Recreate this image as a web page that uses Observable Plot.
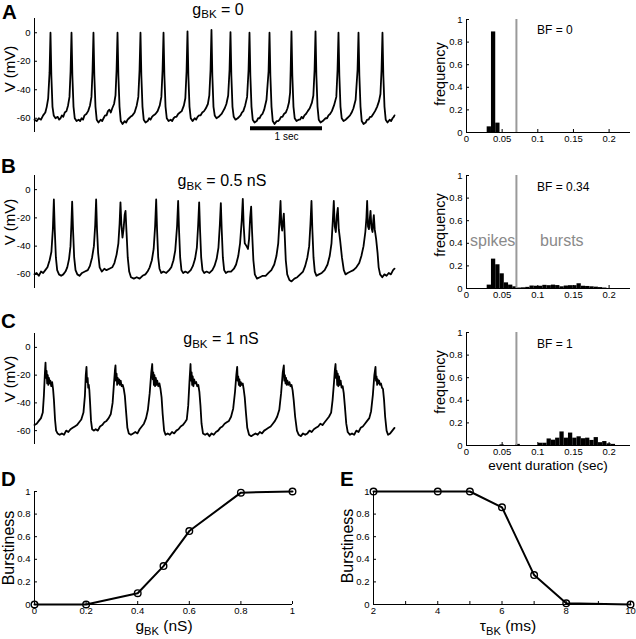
<!DOCTYPE html>
<html><head><meta charset="utf-8">
<script src="https://cdn.jsdelivr.net/npm/d3@7"></script>
<script src="https://cdn.jsdelivr.net/npm/@observablehq/plot@0.6"></script>
<style>
html,body{margin:0;padding:0;background:#fff;}
#fig{position:relative;width:636px;height:639px;overflow:hidden;font-family:'Liberation Sans',Arial,Helvetica,sans-serif;color:#000;background:#fff;}
#fig svg{position:absolute;}
.lbl{position:absolute;white-space:nowrap;line-height:1;}
.sub{font-size:0.72em;position:relative;top:0.3em;}
</style></head><body><div id="fig"></div><script>
// ---------- data ----------
const vTicks = [-60, -40, -20, 0];
const fTicks = [0, 0.2, 0.4, 0.6, 0.8, 1];
const durTicks = [0, 0.05, 0.1, 0.15, 0.2];
const bfThreshold = 0.07;
const binWidth = 0.006;
const scaleBar = {t0: 3, t1: 4, v: -67, label: "1 sec"};

const traceA = [
[0,-61],[0.03,-62],[0.06,-60],[0.09,-61],[0.12,-58],[0.15,-56],[0.17,-52],[0.19,-46],[0.209,-28],[0.222,0],
[0.234,-30],[0.25,-52],[0.267,-58],[0.292,-60],[0.322,-59],[0.342,-61],[0.362,-60],[0.38,-58],[0.40,-59],[0.42,-56],[0.444,-55],[0.466,-51],[0.486,-45],[0.501,-27],[0.514,0],
[0.526,-30],[0.542,-52],[0.559,-60],[0.584,-62],[0.614,-61],[0.634,-62],[0.654,-60],[0.674,-61],[0.694,-58],[0.72,-57],[0.745,-55],[0.771,-51],[0.791,-45],[0.806,-27],[0.819,0],
[0.831,-30],[0.847,-52],[0.864,-61],[0.889,-63],[0.919,-61],[0.94,-62],[0.959,-60],[0.98,-58],[1.00,-58],[1.02,-55],[1.04,-54],[1.06,-56],[1.08,-53],[1.105,-50],[1.125,-44],[1.14,-26],[1.153,0],
[1.165,-30],[1.181,-52],[1.198,-62],[1.223,-64],[1.253,-62],[1.273,-63],[1.293,-61],[1.313,-60],[1.333,-59],[1.36,-58],[1.39,-56],[1.42,-51],[1.442,-45],[1.459,-26],[1.472,0],
[1.484,-30],[1.50,-52],[1.517,-61],[1.542,-63],[1.572,-62],[1.592,-60],[1.612,-61],[1.632,-59],[1.652,-58],[1.68,-57],[1.71,-55],[1.74,-51],[1.762,-45],[1.779,-26],[1.792,0],
[1.804,-30],[1.82,-52],[1.837,-60],[1.862,-62],[1.892,-61],[1.912,-62],[1.932,-60],[1.952,-59],[1.972,-59],[1.995,-57],[2.02,-56],[2.045,-55],[2.075,-51],[2.095,-46],[2.112,-27],[2.125,1],
[2.137,-30],[2.153,-52],[2.17,-60],[2.195,-62],[2.225,-60],[2.245,-61],[2.265,-59],[2.285,-58],[2.305,-58],[2.33,-56],[2.355,-55],[2.38,-53],[2.408,-50],[2.428,-44],[2.445,-26],[2.458,2],
[2.47,-30],[2.486,-52],[2.503,-58],[2.528,-60],[2.558,-59],[2.578,-58],[2.598,-57],[2.62,-55],[2.642,-53],[2.665,-50],[2.69,-44],[2.709,-26],[2.722,0.5],
[2.734,-30],[2.75,-52],[2.767,-59],[2.792,-61],[2.822,-60],[2.842,-59],[2.862,-58],[2.88,-56],[2.9,-55],[2.926,-51],[2.953,-45],[2.973,-26],[2.986,0],
[2.998,-30],[3.014,-52],[3.031,-61],[3.056,-63],[3.086,-62],[3.106,-60],[3.126,-60],[3.146,-58],[3.166,-57],[3.19,-54],[3.222,-47],[3.251,-27],[3.264,0],
[3.276,-30],[3.292,-52],[3.309,-62],[3.334,-64],[3.364,-62],[3.384,-62],[3.404,-61],[3.424,-59],[3.444,-59],[3.465,-57],[3.49,-56],[3.514,-53],[3.534,-49],[3.55,-42],[3.558,-26],[3.569,1],
[3.581,-30],[3.597,-52],[3.614,-60],[3.639,-62],[3.669,-61],[3.689,-61],[3.709,-59],[3.729,-60],[3.749,-58],[3.77,-57],[3.795,-55],[3.823,-53],[3.853,-49],[3.873,-44],[3.89,-26],[3.903,1],
[3.915,-30],[3.931,-52],[3.948,-61],[3.973,-63],[4.003,-62],[4.023,-61],[4.043,-60],[4.063,-60],[4.083,-58],[4.105,-57],[4.13,-55],[4.16,-51],[4.192,-45],[4.209,-26],[4.222,0],
[4.234,-30],[4.25,-52],[4.267,-60],[4.292,-62],[4.322,-61],[4.342,-60],[4.362,-59],[4.382,-58],[4.405,-56],[4.43,-53],[4.46,-47],[4.487,-26],[4.5,0],
[4.512,-30],[4.528,-52],[4.545,-62],[4.57,-64],[4.60,-63],[4.62,-61],[4.64,-61],[4.66,-59],[4.68,-59],[4.705,-57],[4.73,-55],[4.758,-52],[4.785,-48],[4.805,-43],[4.82,-26],[4.833,0],
[4.845,-30],[4.861,-52],[4.878,-61],[4.903,-63],[4.933,-61],[4.953,-62],[4.973,-60],[4.99,-59],[5.0,-58]
];

const traceB = [
[0,-60],[0.03,-59],[0.06,-61],[0.09,-58],[0.12,-59],[0.15,-57],[0.18,-55],[0.21,-50],[0.235,-44],[0.255,-28],[0.269,-7],
[0.281,-28],[0.297,-48],[0.315,-57],[0.34,-60],[0.37,-61],[0.40,-60],[0.43,-58],[0.455,-55],[0.48,-49],[0.50,-40],[0.512,-25],[0.523,-8.5],
[0.535,-28],[0.551,-48],[0.57,-57],[0.595,-60],[0.625,-61],[0.66,-59],[0.70,-58],[0.74,-57],[0.77,-54],[0.80,-48],[0.825,-40],[0.843,-25],[0.856,-7],
[0.868,-28],[0.884,-45],[0.905,-55],[0.935,-58],[0.97,-56],[1.00,-57],[1.04,-56],[1.08,-55],[1.11,-52],[1.14,-46],[1.165,-38],[1.182,-24],[1.194,-9],
[1.207,-25],[1.222,-34],[1.237,-28],[1.252,-18],[1.264,-15],[1.278,-30],[1.295,-48],[1.315,-58],[1.34,-62],[1.38,-63],[1.42,-62],[1.46,-63],[1.50,-61],[1.54,-60],[1.57,-58],[1.60,-55],[1.63,-50],[1.655,-42],[1.675,-26],[1.69,-7],
[1.702,-28],[1.718,-48],[1.736,-56],[1.76,-59],[1.79,-58],[1.83,-59],[1.87,-57],[1.90,-55],[1.93,-50],[1.955,-43],[1.98,-26],[1.995,-8],
[2.007,-28],[2.023,-48],[2.041,-57],[2.065,-59],[2.095,-58],[2.13,-59],[2.17,-57],[2.20,-54],[2.23,-49],[2.255,-41],[2.273,-25],[2.287,-9],
[2.299,-28],[2.315,-48],[2.333,-57],[2.357,-59],[2.39,-58],[2.43,-59],[2.47,-57],[2.50,-54],[2.53,-49],[2.555,-41],[2.574,-25],[2.588,-9.5],
[2.60,-28],[2.616,-48],[2.634,-57],[2.658,-59],[2.69,-58],[2.73,-58],[2.77,-56],[2.80,-53],[2.83,-47],[2.855,-38],[2.878,-22],[2.893,-6.5],
[2.905,-25],[2.92,-38],[2.945,-40],[2.965,-42],[2.98,-35],[2.995,-20],[3.009,-12],[3.022,-30],[3.04,-50],[3.06,-60],[3.09,-63],[3.13,-62],[3.17,-61],[3.21,-61],[3.25,-59],[3.29,-57],[3.33,-53],[3.36,-47],[3.385,-38],[3.403,-22],[3.417,-8],
[3.428,-25],[3.44,-29],[3.452,-22],[3.463,-17],[3.475,-32],[3.49,-50],[3.51,-60],[3.54,-64],[3.57,-65],[3.61,-63],[3.65,-62],[3.69,-60],[3.73,-58],[3.76,-54],[3.79,-48],[3.815,-40],[3.833,-24],[3.847,-8],
[3.859,-28],[3.875,-48],[3.893,-58],[3.917,-61],[3.95,-60],[3.99,-59],[4.03,-57],[4.07,-53],[4.10,-47],[4.125,-38],[4.143,-22],[4.157,-8],
[4.17,-26],[4.185,-30],[4.2,-18],[4.213,-13],[4.226,-28],[4.245,-36],[4.27,-48],[4.296,-57],[4.32,-60],[4.35,-59],[4.39,-58],[4.43,-57],[4.47,-55],[4.51,-52],[4.54,-47],[4.57,-40],[4.595,-30],[4.61,-20],[4.62,-8],
[4.632,-26],[4.645,-28],[4.658,-20],[4.667,-15],[4.68,-27],[4.695,-30],[4.705,-22],[4.713,-18],[4.725,-28],[4.745,-35],[4.765,-45],[4.78,-55],[4.80,-60],[4.83,-62],[4.86,-60],[4.89,-61],[4.92,-59],[4.95,-60],[4.98,-57],[5.0,-56]
];

const traceC = [
[0,-56],[0.03,-55],[0.06,-53],[0.09,-51],[0.115,-47],[0.13,-35],[0.145,-18],[0.153,-11],[0.16,-22],[0.168,-17],[0.176,-26],[0.184,-20],[0.192,-27],[0.2,-22],[0.21,-26],[0.22,-24],[0.232,-28],[0.245,-25],[0.258,-30],[0.27,-38],[0.285,-52],[0.30,-60],[0.32,-62],[0.35,-63],[0.38,-62],[0.41,-63],[0.44,-60],[0.47,-61],[0.50,-59],[0.53,-58],[0.56,-57],[0.59,-56],[0.62,-54],[0.65,-52],[0.68,-47],[0.70,-35],[0.712,-20],[0.722,-14],[0.73,-25],[0.738,-22],[0.746,-29],[0.754,-27],[0.762,-31],[0.772,-40],[0.785,-53],[0.80,-59],[0.825,-60],[0.85,-59],[0.88,-60],[0.91,-57],[0.94,-56],[0.97,-54],[1.00,-53],[1.03,-51],[1.06,-48],[1.085,-40],[1.105,-25],[1.118,-16],[1.125,-13],[1.132,-24],[1.14,-19],[1.148,-27],[1.156,-22],[1.165,-26],[1.175,-23],[1.185,-27],[1.197,-24],[1.21,-28],[1.225,-27],[1.24,-30],[1.255,-35],[1.27,-45],[1.29,-58],[1.31,-62],[1.34,-63],[1.37,-62],[1.40,-61],[1.43,-62],[1.46,-59],[1.49,-57],[1.52,-55],[1.55,-51],[1.575,-45],[1.60,-33],[1.622,-18],[1.635,-12],[1.642,-23],[1.65,-18],[1.658,-27],[1.666,-20],[1.675,-28],[1.685,-22],[1.695,-27],[1.705,-24],[1.72,-28],[1.735,-26],[1.75,-30],[1.765,-36],[1.78,-48],[1.80,-60],[1.82,-63],[1.85,-62],[1.88,-63],[1.91,-61],[1.94,-62],[1.97,-60],[2.00,-59],[2.03,-57],[2.06,-56],[2.09,-54],[2.115,-52],[2.135,-42],[2.152,-25],[2.167,-12],[2.174,-24],[2.182,-18],[2.19,-27],[2.198,-21],[2.207,-28],[2.217,-23],[2.23,-26],[2.245,-25],[2.26,-28],[2.275,-27],[2.29,-32],[2.305,-42],[2.32,-55],[2.34,-62],[2.37,-63],[2.40,-62],[2.43,-64],[2.46,-62],[2.49,-63],[2.52,-61],[2.55,-60],[2.58,-58],[2.61,-57],[2.64,-55],[2.67,-54],[2.70,-53],[2.73,-50],[2.76,-44],[2.785,-32],[2.803,-20],[2.815,-14],[2.822,-24],[2.83,-21],[2.838,-27],[2.846,-23],[2.855,-28],[2.865,-25],[2.878,-27],[2.892,-26],[2.905,-30],[2.92,-36],[2.935,-46],[2.955,-58],[2.98,-63],[3.01,-64],[3.04,-63],[3.07,-62],[3.10,-63],[3.13,-61],[3.16,-62],[3.19,-60],[3.22,-59],[3.25,-58],[3.28,-57],[3.31,-55],[3.34,-53],[3.37,-50],[3.40,-45],[3.425,-33],[3.448,-18],[3.463,-13],[3.47,-24],[3.478,-20],[3.486,-26],[3.494,-22],[3.503,-27],[3.513,-24],[3.525,-27],[3.54,-25],[3.555,-28],[3.57,-27],[3.585,-31],[3.60,-38],[3.62,-50],[3.645,-60],[3.67,-63],[3.70,-64],[3.73,-62],[3.76,-63],[3.79,-62],[3.82,-60],[3.85,-61],[3.88,-59],[3.91,-58],[3.94,-57],[3.97,-55],[4.00,-56],[4.03,-54],[4.06,-52],[4.09,-50],[4.12,-47],[4.14,-38],[4.16,-25],[4.172,-16],[4.181,-12],[4.188,-22],[4.196,-17],[4.204,-27],[4.212,-19],[4.22,-28],[4.23,-21],[4.24,-27],[4.252,-24],[4.265,-29],[4.28,-28],[4.295,-33],[4.31,-42],[4.33,-55],[4.35,-61],[4.38,-63],[4.41,-62],[4.44,-63],[4.47,-60],[4.50,-61],[4.53,-58],[4.56,-57],[4.59,-55],[4.62,-53],[4.65,-51],[4.675,-46],[4.70,-34],[4.72,-20],[4.736,-14],[4.743,-24],[4.751,-21],[4.759,-27],[4.767,-23],[4.776,-26],[4.786,-24],[4.798,-27],[4.812,-26],[4.826,-29],[4.84,-30],[4.855,-38],[4.87,-50],[4.89,-60],[4.91,-63],[4.94,-62],[4.97,-60],[5.0,-58]
];

const histA_dur = [0.032, 0.038, 0.044];
const histA_freq = [0.05, 0.89, 0.083];
const histB_dur = [0.032,0.038,0.044,0.050,0.056,0.062,0.068,0.074,0.080,0.086,0.092,0.098,0.104,0.110,0.116,0.122,0.128,0.134,0.140,0.146,0.152,0.158,0.164,0.170,0.176,0.182,0.188,0.194];
const histB_freq = [0.03,0.26,0.21,0.13,0.05,0.03,0.015,0.004,0.006,0.01,0.022,0.02,0.02,0.028,0.025,0.03,0.026,0.015,0.022,0.025,0.025,0.042,0.02,0.018,0.015,0.012,0.008,0.004];
const histC_dur = [0.050,0.0725,0.104,0.110,0.116,0.122,0.128,0.134,0.140,0.146,0.152,0.158,0.164,0.170,0.176,0.182,0.188,0.194,0.200,0.206];
const histC_freq = [0.005,0.01,0.02,0.02,0.058,0.047,0.065,0.12,0.065,0.11,0.065,0.077,0.06,0.065,0.045,0.07,0.025,0.035,0.015,0.01];

const gbk = [0, 0.2, 0.4, 0.5, 0.6, 0.8, 1];
const burstD = [0, 0, 0.1, 0.34, 0.65, 0.99, 1];
const gTicks = [0, 0.2, 0.4, 0.6, 0.8, 1];
const tauBK = [2, 4, 5, 6, 7, 8, 10];
const burstE = [1, 1, 1, 0.86, 0.26, 0.01, 0];
const tauTicks = [2, 3, 4, 5, 6, 7, 8, 9, 10];

// ---------- drawing ----------
const fig = document.getElementById("fig");
const FONT = "'Liberation Sans', Arial, Helvetica, sans-serif";
const baseStyle = {fontFamily: FONT, fontSize: "9.5px", background: "none", overflow: "visible", color: "#000"};

function place(svg, left, top) {
  svg.style.left = left + "px";
  svg.style.top = top + "px";
  fig.appendChild(svg);
}

function tracePlot(data, mt, h, mb, extra) {
  return Plot.plot({
    width: 400, height: mt + h + mb,
    marginLeft: 34, marginRight: 6, marginTop: mt, marginBottom: mb,
    style: baseStyle,
    x: {domain: [0, 5], axis: null},
    y: {domain: [-70, 10]},
    marks: [
      Plot.axisY({ticks: vTicks, tickSize: -3, tickPadding: 7, tickFormat: d => String(d), label: null}),
      Plot.ruleX([0], {stroke: "#000", strokeWidth: 1}),
      Plot.line(data, {x: d => d[0], y: d => d[1], stroke: "#000", strokeWidth: 1.8, strokeLinejoin: "round"}),
      ...(extra || [])
    ]
  });
}

function histPlot(xs, ys, mt, h, mb) {
  const data = xs.map((x, i) => ({x, y: ys[i]}));
  return Plot.plot({
    width: 216, height: mt + h + mb,
    marginLeft: 46, marginRight: 6, marginTop: mt, marginBottom: mb,
    style: baseStyle,
    x: {domain: [0, 0.23]},
    y: {domain: [0, 1]},
    marks: [
      Plot.rect(data, {x1: d => d.x - binWidth / 2, x2: d => d.x + binWidth / 2, y1: d => 0, y2: d => d.y, fill: "#000"}),
      Plot.ruleX([bfThreshold], {stroke: "#9a9a9a", strokeWidth: 2}),
      Plot.ruleX([0], {stroke: "#000"}),
      Plot.ruleY([0], {stroke: "#000"}),
      Plot.axisY({ticks: fTicks, tickSize: -3, tickPadding: 7, tickFormat: d => String(d), label: null}),
      Plot.axisX({ticks: durTicks, tickSize: -3, tickPadding: 6, tickFormat: d => String(d), label: null})
    ]
  });
}

function burstPlot(xs, ys, xDomain, xTicks, xFmt, width, ml, mr) {
  const data = xs.map((x, i) => ({x, y: ys[i]}));
  return Plot.plot({
    width, height: 135,
    marginLeft: ml, marginRight: mr, marginTop: 9, marginBottom: 13,
    style: baseStyle,
    x: {domain: xDomain},
    y: {domain: [0, 1]},
    marks: [
      Plot.ruleX([xDomain[0]], {stroke: "#000"}),
      Plot.ruleY([0], {stroke: "#000"}),
      Plot.axisY({ticks: fTicks, tickSize: -3, tickPadding: 7, tickFormat: d => String(d), label: null}),
      Plot.axisX({ticks: xTicks, tickSize: -3, tickPadding: 5.5, tickFormat: xFmt, label: null}),
      Plot.line(data, {x: "x", y: "y", stroke: "#000", strokeWidth: 2}),
      Plot.dot(data, {x: "x", y: "y", r: 3.3, stroke: "#000", strokeWidth: 1.4, fill: "none"})
    ]
  });
}

// traces
place(tracePlot(traceA, 18, 114, 12, [
  Plot.ruleY([scaleBar], {y: "v", x1: "t0", x2: "t1", stroke: "#000", strokeWidth: 4}),
  Plot.text([scaleBar], {x: d => (d.t0 + d.t1) / 2, y: "v", text: "label", dy: 5, lineAnchor: "top", fontSize: 10})
]), 0, 0);
place(tracePlot(traceB, 15, 113, 6), 0, 160);
place(tracePlot(traceC, 15, 111, 6), 0, 318);

// histograms
place(histPlot(histA_dur, histA_freq, 19, 113, 12), 420, 0);
place(histPlot(histB_dur, histB_freq, 15, 113, 12), 420, 160);
place(histPlot(histC_dur, histC_freq, 14, 113, 12), 420, 318);

// burstiness
place(burstPlot(gbk, burstD, [0, 1], gTicks, d => String(d), 300, 34, 8), 0, 482);
place(burstPlot(tauBK, burstE, [2, 10], tauTicks, d => (d % 2 === 0 ? String(d) : ""), 306, 43, 6), 330, 482);

// ---------- text ----------
function label(html, o) {
  const d = document.createElement("div");
  d.className = "lbl";
  d.innerHTML = html;
  d.style.fontSize = o.size + "px";
  if (o.bold) d.style.fontWeight = "bold";
  if (o.color) d.style.color = o.color;
  if (o.rot) {
    d.style.left = o.x + "px";
    d.style.top = o.y + "px";
    d.style.transform = "translate(-50%,-50%) rotate(-90deg)";
  } else {
    d.style.left = o.x + "px";
    d.style.top = (o.base - 0.8465 * o.size) + "px";
    if (o.mid) d.style.transform = "translateX(-50%)";
  }
  fig.appendChild(d);
}
const SUB = s => `<span class="sub">${s}</span>`;

[["A", 2, 19.5], ["B", 1, 173], ["C", 1, 328], ["D", 1, 486], ["E", 340, 486]]
  .forEach(([t, x, b]) => label(t, {x, base: b, size: 20.5, bold: true}));

label(`g${SUB("BK")} = 0`, {x: 218, base: 15.5, size: 16, mid: true});
label(`g${SUB("BK")} = 0.5 nS`, {x: 222, base: 187, size: 16, mid: true});
label(`g${SUB("BK")} = 1 nS`, {x: 221, base: 345, size: 16, mid: true});

[69, 222, 379].forEach(y => label("V (mV)", {x: 9, y, size: 15, rot: true}));
[74, 225, 382].forEach(y => label("frequency", {x: 440, y, size: 14.5, rot: true}));

label("BF = 0", {x: 537, base: 34, size: 12});
label("BF = 0.34", {x: 537, base: 191.5, size: 12});
label("BF = 1", {x: 537, base: 348, size: 12});

label("spikes", {x: 470, base: 246.5, size: 16, color: "#8a8a8a"});
label("bursts", {x: 540, base: 246.5, size: 16, color: "#8a8a8a"});

label("event duration (sec)", {x: 548, base: 470, size: 13.5, mid: true});

label("Burstiness", {x: 8.5, y: 548, size: 16, rot: true});
label("Burstiness", {x: 348, y: 546, size: 16, rot: true});
label(`g${SUB("BK")} (nS)`, {x: 164, base: 631.5, size: 15.5, mid: true});
label(`τ${SUB("BK")} (ms)`, {x: 508, base: 631.5, size: 15.5, mid: true});
</script></body></html>
